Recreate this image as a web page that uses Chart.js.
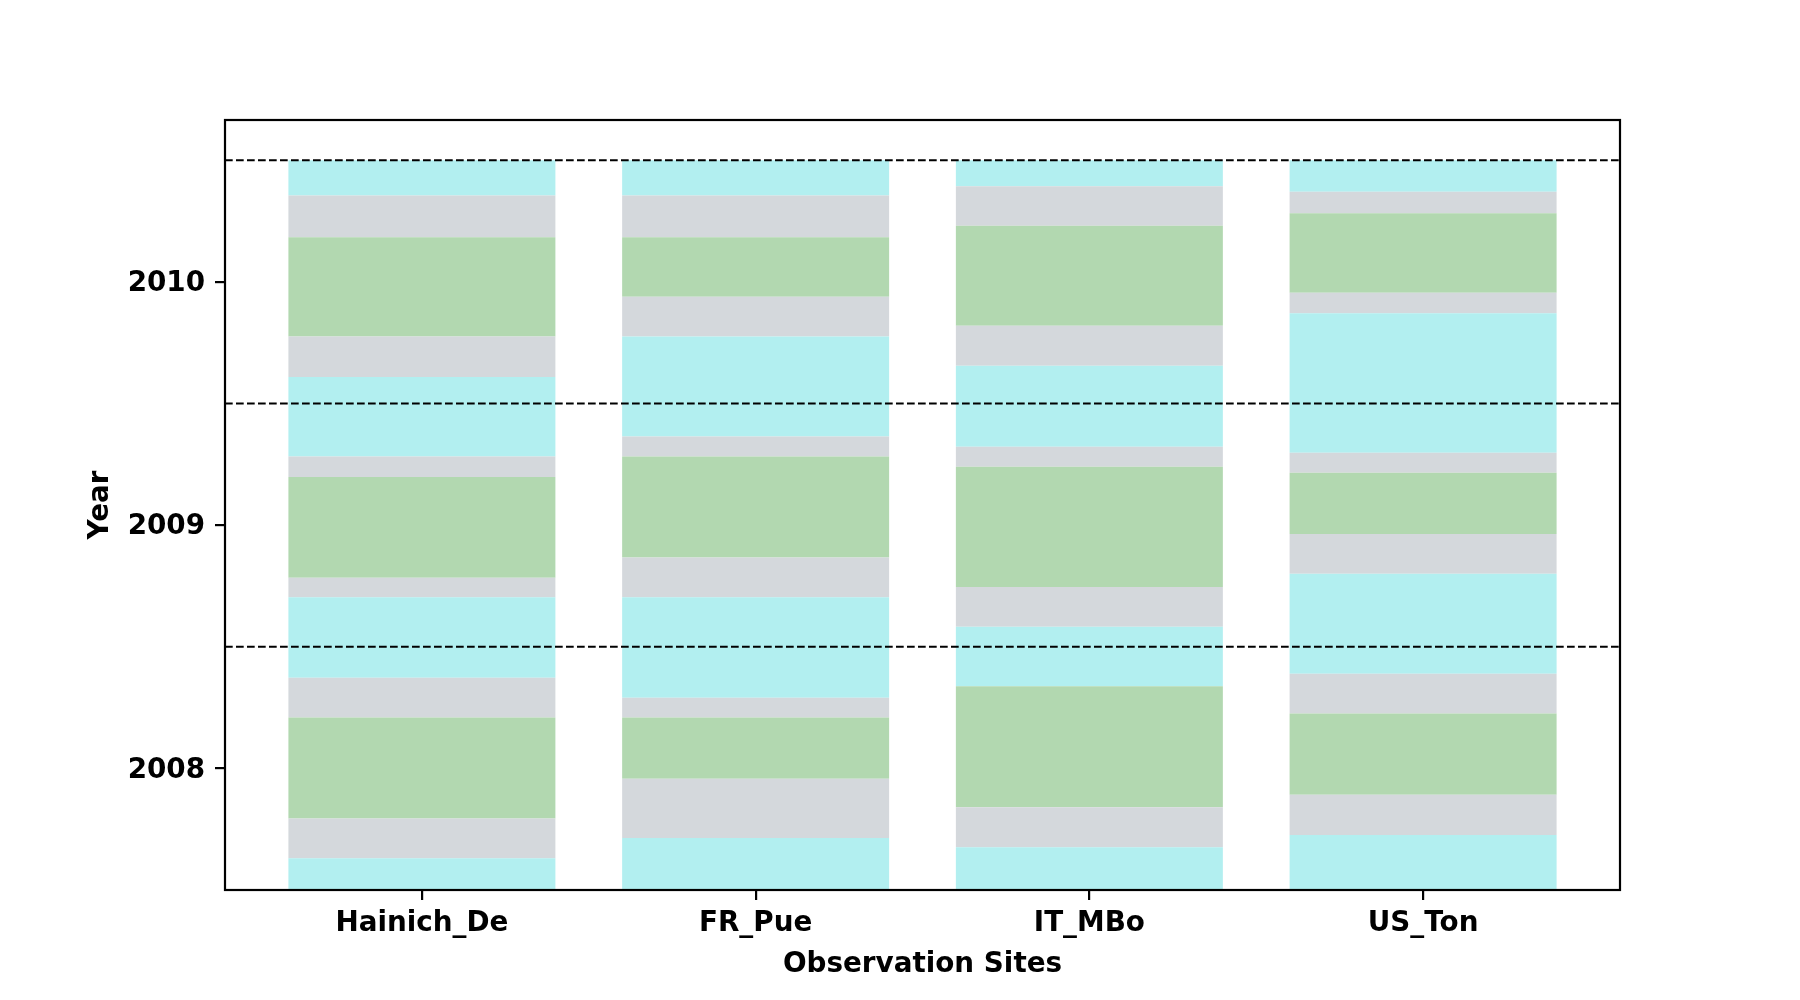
<!DOCTYPE html>
<html>
<head>
<meta charset="utf-8">
<script src="https://cdn.jsdelivr.net/npm/chart.js@4.4.1/dist/chart.umd.min.js"></script>
<style>
  html, body { margin: 0; padding: 0; background: #fff; }
  canvas { display: block; }
</style>
</head>
<body>
<canvas id="myChart" width="1800" height="1000"></canvas>
<script>
// sites along the x axis
const sites = ['Hainich_De', 'FR_Pue', 'IT_MBo', 'US_Ton']
const siteIdx = [0, 1, 2, 3]

// period covered by each bar
const rangeStart = 2007.5
const rangeEnd = 2010.5

// phase boundaries per site (fractional year, bottom to top)
const hainichDe = [2007.630, 2007.794, 2008.209, 2008.372, 2008.703, 2008.783, 2009.198, 2009.282, 2009.609, 2009.775, 2010.183, 2010.355]
const frPue = [2007.714, 2007.957, 2008.209, 2008.290, 2008.703, 2008.867, 2009.282, 2009.364, 2009.775, 2009.938, 2010.183, 2010.355]
const itMbo = [2007.676, 2007.840, 2008.337, 2008.337, 2008.582, 2008.745, 2009.240, 2009.322, 2009.655, 2009.819, 2010.230, 2010.393]
const usTon = [2007.726, 2007.892, 2008.225, 2008.389, 2008.800, 2008.963, 2009.215, 2009.297, 2009.871, 2009.955, 2010.282, 2010.370]

// phase order inside one year, repeated
const phases = ['dormant', 'transition', 'growing', 'transition']
const phaseColors = {
	dormant: '#b2eff0',
	transition: '#d4d8dc',
	growing: '#b2d8b0',
}

// y ticks and year separators
const yearTicks = [2008, 2009, 2010]
const yearBounds = [2008.5, 2009.5, 2010.5]

const allBounds = [hainichDe, frPue, itMbo, usTon].map(b => [rangeStart, ...b, rangeEnd])
const nSeg = allBounds[0].length - 1

const datasets = []
for (let k = 0; k < nSeg; k++) {
	const phase = phases[k % 4]
	datasets.push({
		label: phase + ' ' + k,
		data: siteIdx.map(i => ({ x: i, y: [allBounds[i][k], allBounds[i][k + 1]] })),
		backgroundColor: phaseColors[phase],
		borderWidth: 0,
		grouped: false,
		barPercentage: 0.8,
		categoryPercentage: 1.0,
	})
}

const font = { family: 'DejaVu Sans', size: 27.8, weight: 'bold' }

const frameAndLines = {
	id: 'frameAndLines',
	afterDatasetsDraw(chart) {
		const { ctx, chartArea: a, scales } = chart
		ctx.save()
		ctx.strokeStyle = '#000'
		ctx.lineWidth = 2
		ctx.setLineDash([7.7, 3.3])
		yearBounds.forEach(v => {
			const y = scales.y.getPixelForValue(v)
			ctx.beginPath()
			ctx.moveTo(a.left, y)
			ctx.lineTo(a.right, y)
			ctx.stroke()
		})
		ctx.setLineDash([])
		ctx.lineWidth = 2.2
		ctx.strokeRect(a.left, a.top, a.right - a.left, a.bottom - a.top)
		ctx.restore()
	},
}

Chart.defaults.font.family = 'DejaVu Sans'
Chart.defaults.color = '#000'

new Chart(document.getElementById('myChart'), {
	type: 'bar',
	data: { datasets },
	options: {
		responsive: false,
		animation: false,
		layout: { padding: { left: 0, top: 120, right: 180, bottom: 0 } },
		plugins: {
			legend: { display: false },
			tooltip: { enabled: false },
		},
		scales: {
			x: {
				type: 'linear',
				min: -0.59,
				max: 3.59,
				offset: false,
				afterBuildTicks: (axis) => { axis.ticks = siteIdx.map(v => ({ value: v })) },
				afterFit: (axis) => { axis.height = 110 },
				grid: {
					offset: false,
					drawOnChartArea: false,
					drawTicks: true,
					tickLength: 10,
					tickWidth: 2.2,
					tickColor: '#000',
					color: '#000',
					lineWidth: 2.2,
				},
				border: { display: false },
				ticks: {
					font,
					color: '#000',
					padding: 7.5,
					maxRotation: 0,
					autoSkip: false,
					callback: (v) => sites[v],
				},
				title: {
					display: true,
					text: 'Observation Sites',
					font,
					color: '#000',
					padding: { top: 0, bottom: 19 },
				},
			},
			y: {
				type: 'linear',
				min: 2007.5,
				max: 2010.665,
				afterBuildTicks: (axis) => { axis.ticks = yearTicks.map(v => ({ value: v })) },
				afterFit: (axis) => { axis.width = 225 },
				grid: {
					drawOnChartArea: false,
					drawTicks: true,
					tickLength: 10,
					tickWidth: 2.2,
					tickColor: '#000',
					color: '#000',
					lineWidth: 2.2,
				},
				border: { display: false },
				ticks: {
					font,
					color: '#000',
					padding: 10,
					labelOffset: 2,
					callback: (v) => String(v),
				},
				title: {
					display: true,
					text: 'Year',
					font,
					color: '#000',
					padding: { top: 84, bottom: 0 },
				},
			},
		},
	},
	plugins: [frameAndLines],
})
</script>
</body>
</html>
